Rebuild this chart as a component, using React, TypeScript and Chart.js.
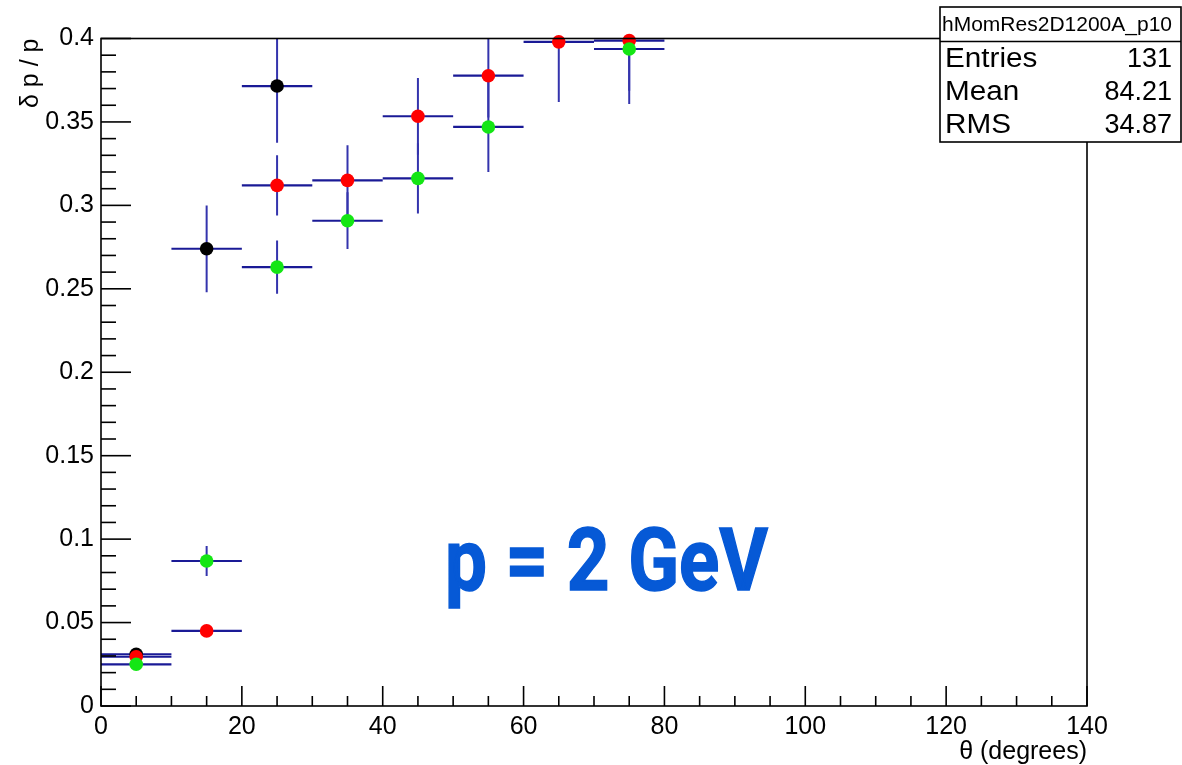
import React, { useEffect, useRef } from 'react';
import { Chart, registerables } from 'chart.js';

Chart.register(...registerables);

// ---- Data ----
const binHalfWidth = 5;

const blackX = [5, 15, 25];
const blackY = [0.031, 0.274, 0.3715];
const blackErr = [0.002, 0.026, 0.034];

const redX = [5, 15, 25, 35, 45, 55, 65, 75];
const redY = [0.0295, 0.045, 0.312, 0.315, 0.3534, 0.3777, 0.398, 0.3987];
const redErr = [0.002, 0.002, 0.018, 0.021, 0.023, 0.025, 0.036, 0.03];

const greenX = [5, 15, 25, 35, 45, 55, 75];
const greenY = [0.025, 0.0869, 0.263, 0.2908, 0.3162, 0.347, 0.3937];
const greenErr = [0.002, 0.009, 0.016, 0.017, 0.021, 0.027, 0.033];

const statsTitle = 'hMomRes2D1200A_p10';
const statsLabels = ['Entries', 'Mean', 'RMS'];
const statsValues = ['131', '84.21', '34.87'];

const annotationText = 'p = 2 GeV';
const xAxisTitle = 'θ (degrees)';
const yAxisTitle = 'δ p / p';

const FONT = '"Liberation Sans", Arial, Helvetica, sans-serif';

function toPoints(xs: number[], ys: number[]) {
  return xs.map((x, i) => ({ x, y: ys[i] }));
}

const errorBarPlugin = {
  id: 'errorBars',
  beforeDatasetsDraw(chart: any) {
    const { ctx, chartArea } = chart;
    const xs = chart.scales.x;
    const ys = chart.scales.y;
    ctx.save();
    ctx.beginPath();
    ctx.rect(chartArea.left, chartArea.top, chartArea.right - chartArea.left, chartArea.bottom - chartArea.top);
    ctx.clip();
    chart.data.datasets.forEach((ds: any) => {
      const errs: number[] = ds.yErr;
      ds.data.forEach((p: any, i: number) => {
        const px = xs.getPixelForValue(p.x);
        const py = ys.getPixelForValue(p.y);
        const x0 = xs.getPixelForValue(p.x - binHalfWidth);
        const x1 = xs.getPixelForValue(p.x + binHalfWidth);
        const y0 = ys.getPixelForValue(p.y - errs[i]);
        const y1 = ys.getPixelForValue(p.y + errs[i]);
        ctx.strokeStyle = '#1a1a96';
        ctx.lineWidth = 2.2;
        ctx.beginPath();
        ctx.moveTo(x0, py);
        ctx.lineTo(x1, py);
        ctx.stroke();
        ctx.strokeStyle = '#3434ad';
        ctx.lineWidth = 2;
        ctx.beginPath();
        ctx.moveTo(px, y0);
        ctx.lineTo(px, y1);
        ctx.stroke();
      });
    });
    ctx.restore();
  },
};

const framePlugin = {
  id: 'rootFrame',
  afterDraw(chart: any) {
    const { ctx, chartArea } = chart;
    const xs = chart.scales.x;
    const ys = chart.scales.y;
    const { left, right, top, bottom } = chartArea;
    ctx.save();
    ctx.strokeStyle = '#000';
    ctx.lineWidth = 1.6;
    ctx.strokeRect(left, top, right - left, bottom - top);

    // x ticks (inward)
    for (let v = xs.min; v <= xs.max + 1e-9; v += 5) {
      const px = xs.getPixelForValue(v);
      const major = Math.abs(v % 20) < 1e-6;
      const len = major ? 20 : 10;
      ctx.beginPath();
      ctx.moveTo(px, bottom);
      ctx.lineTo(px, bottom - len);
      ctx.stroke();
    }
    // y ticks (inward)
    for (let k = 0; k <= 40; k++) {
      const v = k * 0.01;
      const py = ys.getPixelForValue(v);
      const major = k % 5 === 0;
      const len = major ? 30 : 15;
      ctx.beginPath();
      ctx.moveTo(left, py);
      ctx.lineTo(left + len, py);
      ctx.stroke();
    }

    // Annotation text
    ctx.fillStyle = '#0659d6';
    ctx.font = 'bold 88px Roboto, "Liberation Sans", sans-serif';
    ctx.textBaseline = 'alphabetic';
    ctx.textAlign = 'left';
    const w = ctx.measureText(annotationText).width;
    const targetW = 323;
    ctx.save();
    ctx.translate(445, 590);
    ctx.scale(targetW / w, 1);
    ctx.lineWidth = 1.5;
    ctx.strokeStyle = '#0659d6';
    ctx.fillText(annotationText, 0, 0);
    ctx.strokeText(annotationText, 0, 0);
    ctx.restore();

    // Stats box
    const bx = 940, by = 7, bw = 241, bh = 135, titleH = 34.5;
    ctx.fillStyle = '#fff';
    ctx.fillRect(bx, by, bw, bh);
    ctx.strokeStyle = '#000';
    ctx.lineWidth = 1.6;
    ctx.strokeRect(bx, by, bw, bh);
    ctx.beginPath();
    ctx.moveTo(bx, by + titleH);
    ctx.lineTo(bx + bw, by + titleH);
    ctx.stroke();

    ctx.fillStyle = '#000';
    ctx.font = `21px ${FONT}`;
    ctx.textAlign = 'center';
    ctx.textBaseline = 'middle';
    ctx.fillText(statsTitle, 1057, by + titleH / 2 + 1);

    ctx.font = `27px ${FONT}`;
    const rowY = [60, 93, 126];
    statsLabels.forEach((lab, i) => {
      ctx.save();
      ctx.textAlign = 'left';
      ctx.translate(945, rowY[i]);
      ctx.scale(1.1, 1);
      ctx.fillText(lab, 0, 0);
      ctx.restore();
      ctx.textAlign = 'right';
      ctx.fillText(statsValues[i], 1172, rowY[i]);
    });
    ctx.restore();
  },
};

export default function App() {
  const canvasRef = useRef<HTMLCanvasElement | null>(null);

  useEffect(() => {
    document.body.style.margin = '0';
    const canvas = canvasRef.current;
    if (!canvas) return;

    const mk = (label: string, xs: number[], ys: number[], errs: number[], color: string, order: number) => ({
      label,
      data: toPoints(xs, ys),
      yErr: errs,
      backgroundColor: color,
      borderColor: color,
      pointRadius: 6.8,
      pointBorderWidth: 0,
      pointHoverRadius: 6.8,
      showLine: false,
      clip: false,
      order,
    });

    const chart = new Chart(canvas, {
      type: 'scatter',
      data: {
        datasets: [
          mk('black', blackX, blackY, blackErr, '#000000', 3),
          mk('red', redX, redY, redErr, '#ff0000', 2),
          mk('green', greenX, greenY, greenErr, '#14e614', 1),
        ] as any,
      },
      options: {
        responsive: false,
        animation: false,
        events: [],
        layout: { padding: { top: 38.5, right: 95, left: 0, bottom: 0 } },
        plugins: {
          legend: { display: false },
          tooltip: { enabled: false },
          title: { display: false },
        },
        scales: {
          x: {
            type: 'linear',
            min: 0,
            max: 140,
            afterFit: (s: any) => { s.height = 59; },
            grid: { display: false, drawTicks: false },
            border: { display: false },
            ticks: {
              stepSize: 20,
              padding: 6,
              color: '#000',
              font: { family: FONT, size: 25 },
              maxRotation: 0,
            },
            title: {
              display: true,
              text: xAxisTitle,
              align: 'end',
              color: '#000',
              font: { family: FONT, size: 25 },
              padding: { top: 0, bottom: -2 },
            },
          },
          y: {
            type: 'linear',
            min: 0,
            max: 0.4,
            afterFit: (s: any) => { s.width = 101; },
            grid: { display: false, drawTicks: false },
            border: { display: false },
            ticks: {
              stepSize: 0.05,
              padding: 7,
              color: '#000',
              font: { family: FONT, size: 25 },
              callback: (v: any) => String(Number(Number(v).toFixed(2))),
            },
            title: {
              display: true,
              text: yAxisTitle,
              align: 'end',
              color: '#000',
              font: { family: FONT, size: 25 },
              padding: { top: 16, bottom: 0 },
            },
          },
        },
      } as any,
      plugins: [errorBarPlugin, framePlugin],
    });

    return () => chart.destroy();
  }, []);

  return (
    <canvas
      ref={canvasRef}
      width={1182}
      height={765}
      style={{ display: 'block', width: 1182, height: 765 }}
    />
  );
}
